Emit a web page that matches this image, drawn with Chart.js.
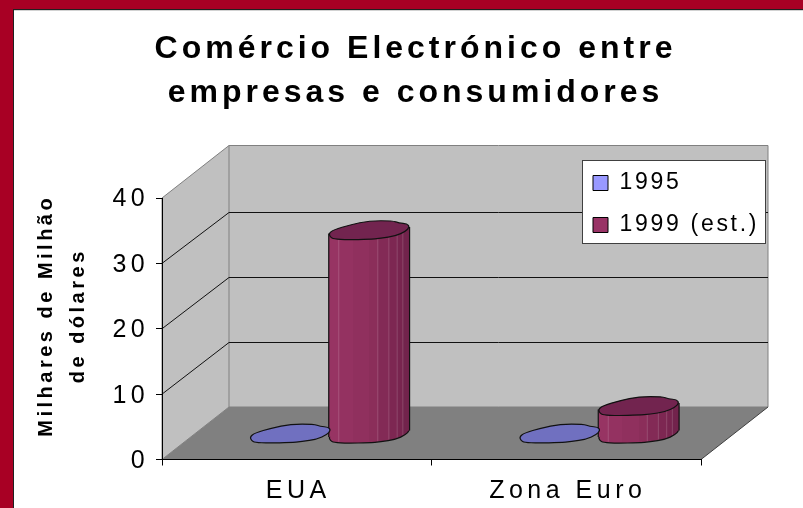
<!DOCTYPE html>
<html>
<head>
<meta charset="utf-8">
<style>html,body{margin:0;padding:0;background:#fff}canvas{display:block}</style>
<script src="https://cdn.jsdelivr.net/npm/chart.js@4"></script>
</head>
<body>
<canvas id="c" width="803" height="508"></canvas>
<script>
const categories = ['EUA', 'Zona Euro'];
const values1995 = [0.1, 0.1];
const values1999 = [31.2, 4.3];
const seriesNames = ['1995', '1999 (est.)'];
const titleLines = ['Comércio Electrónico entre', 'empresas e consumidores'];
const axisTitleLines = ['Milhares de Milhão', 'de dólares'];

const FONT = '"Liberation Sans", Arial, sans-serif';
const DX = 67, DY = -52.5, GRID_DY = -51.7;
// outline of one cylinder cap, normalised to its bounding box
const cap = [[0,.67],[.06,.47],[.27,.21],[.5,0],[.79,0],[.87,.12],[.97,.16],[1,.33],[.95,.56],[.83,.79],[.64,.93],[.5,.97],[.23,1],[.06,.96],[.02,.86]];
const lower = [[0,.67],[.02,.86],[.06,.96],[.23,1],[.5,.97],[.64,.93],[.83,.79],[.95,.56],[1,.33]];
const bands = [[0,'#973463'],[.124,'#943261'],[.3,'#90305e'],[.5,'#8b2e5a'],[.607,'#832a56'],[.744,'#7d2752'],[.847,'#78254f'],[.917,'#72234c'],[1,'#72234c']];
const glints = [.124,.607,.744,.847,.917];

function lowerV(u){
  for(let i=1;i<lower.length;i++){
    if(u<=lower[i][0]){
      const a=lower[i-1],b=lower[i];
      return a[1]+(b[1]-a[1])*(u-a[0])/(b[0]-a[0]);
    }
  }
  return .33;
}
function capPath(ctx,x0,w,cy,h){
  const P=cap.map(p=>[x0+p[0]*w,cy+(p[1]-.5)*h]);
  const n=P.length;
  ctx.beginPath();
  ctx.moveTo((P[n-1][0]+P[0][0])/2,(P[n-1][1]+P[0][1])/2);
  for(let i=0;i<n;i++){
    const q=P[(i+1)%n];
    ctx.quadraticCurveTo(P[i][0],P[i][1],(P[i][0]+q[0])/2,(P[i][1]+q[1])/2);
  }
  ctx.closePath();
}
const scenery = {
  id:'scenery',
  afterLayout(chart){
    const t=chart.titleBlock; t.left=13; t.right=818;
    const l=chart.legend; l.left=574; l.top=152.5; l.right=790; l.bottom=500;
    if(chart.$wrapped) return;
    chart.$wrapped=true;
    const ctx=chart.ctx;
    const wrap=(o,m,sp,dx,dy)=>{const f=o[m];o[m]=function(a){ctx.save();ctx.letterSpacing=sp;ctx.translate(dx||0,dy||0);f.call(this,a);ctx.restore();};};
    wrap(t,'draw','4px');
    wrap(l,'draw','2.7px');
    wrap(chart.scales.x,'drawLabels','4.5px',1.5,0);
    wrap(chart.scales.y,'drawLabels','4.5px',-1.5,1.5);
    wrap(chart.scales.y,'drawTitle','3.5px',0,-13);
  },
  beforeDraw(chart){
    const ctx=chart.ctx,{left:L,right:R,top:T,bottom:B}=chart.chartArea,y=chart.scales.y;
    ctx.save();
    ctx.fillStyle='#fff';ctx.fillRect(0,0,803,508);
    ctx.fillStyle='#a80024';ctx.fillRect(0,0,803,9.5);ctx.fillRect(0,0,13,508);
    ctx.fillStyle='#202020';ctx.fillRect(13,9,790,1.2);ctx.fillRect(13,9,1,499);
    // walls
    ctx.fillStyle='#c0c0c0';ctx.strokeStyle='#808080';ctx.lineWidth=1;
    ctx.beginPath();ctx.moveTo(L,T);ctx.lineTo(L+DX,T+DY);ctx.lineTo(R+DX,T+DY);ctx.lineTo(R+DX,B+DY);ctx.lineTo(L+DX,B+DY);ctx.lineTo(L,B);ctx.closePath();ctx.fill();ctx.stroke();
    ctx.beginPath();ctx.moveTo(L+DX,T+DY);ctx.lineTo(L+DX,B+DY);ctx.stroke();
    // floor
    ctx.fillStyle='#808080';
    ctx.beginPath();ctx.moveTo(L,B);ctx.lineTo(R,B);ctx.lineTo(R+DX,B+DY);ctx.lineTo(L+DX,B+DY);ctx.closePath();ctx.fill();
    ctx.strokeStyle='#404040';
    ctx.beginPath();ctx.moveTo(R,B);ctx.lineTo(R+DX,B+DY);ctx.stroke();
    // grid from the value scale
    y.ticks.forEach(t=>{
      if(t.value<=y.min||t.value>=y.max) return;
      const p=y.getPixelForValue(t.value);
      const back=Math.round(p+GRID_DY)+.5;
      ctx.strokeStyle='#111';
      ctx.beginPath();ctx.moveTo(L,p);ctx.lineTo(L+DX,back);ctx.lineTo(R+DX,back);ctx.stroke();
    });
    // legend frame
    ctx.fillStyle='#fff';ctx.strokeStyle='#404040';
    ctx.fillRect(582.5,160.5,183,83);ctx.strokeRect(582.5,160.5,183,83);
    ctx.restore();
  },
  beforeDatasetDraw(chart,args){
    const ctx=chart.ctx, meta=args.meta, ds=chart.data.datasets[args.index];
    ctx.save();
    meta.data.forEach(el=>{
      const w=el.width+2, x0=el.x+DX/2-w/2-.5, h=w*0.236;
      const topY=el.y+DY/2+1, baseY=el.base+DY/2+1;
      ctx.lineWidth=1.2;ctx.strokeStyle='#111';
      if(baseY-topY>3){
        const g=ctx.createLinearGradient(x0,0,x0+w,0);
        bands.forEach((b,i)=>{ g.addColorStop(b[0],b[1]); if(i<bands.length-1) g.addColorStop(Math.max(bands[i+1][0]-.0001,0),b[1]); });
        capPath(ctx,x0,w,baseY,h);ctx.fillStyle=g;ctx.fill();ctx.stroke();
        const yl=topY+.17*h,yr=topY-.17*h,byl=baseY+.17*h,byr=baseY-.17*h;
        ctx.beginPath();ctx.moveTo(x0,yl);ctx.lineTo(x0+w,yr);ctx.lineTo(x0+w,byr);ctx.lineTo(x0,byl);ctx.closePath();ctx.fill();
        ctx.beginPath();ctx.moveTo(x0,yl);ctx.lineTo(x0,byl);ctx.moveTo(x0+w,yr);ctx.lineTo(x0+w,byr);ctx.stroke();
        ctx.strokeStyle='rgba(255,255,255,.16)';ctx.lineWidth=1;
        glints.forEach(u=>{
          const px=x0+u*w;
          ctx.beginPath();ctx.moveTo(px,topY);ctx.lineTo(px,baseY+(lowerV(u)-.5)*h-1);ctx.stroke();
        });
        ctx.lineWidth=1.2;ctx.strokeStyle='#111';
      }
      capPath(ctx,x0,w,topY,h);
      ctx.fillStyle=ds.topColor;ctx.fill();ctx.stroke();
    });
    ctx.restore();
    return false;
  }
};

new Chart(document.getElementById('c'),{
  type:'bar',
  data:{
    labels:categories,
    datasets:[
      {label:seriesNames[0],data:values1995,backgroundColor:'#9999ff',topColor:'#7070c0',borderColor:'#000',borderWidth:1},
      {label:seriesNames[1],data:values1999,backgroundColor:'#993366',topColor:'#72244f',borderColor:'#000',borderWidth:1}
    ]
  },
  options:{
    responsive:false,animation:false,devicePixelRatio:1,
    categoryPercentage:.585,barPercentage:1,
    layout:{padding:{top:10,left:13,right:102,bottom:0}},
    plugins:{
      tooltip:{enabled:false},
      title:{display:true,text:titleLines,color:'#000',align:'center',
        font:{family:FONT,size:32,weight:'bold',lineHeight:1.375},
        padding:{top:17,bottom:83}},
      legend:{display:true,position:'chartArea',align:'start',
        labels:{boxWidth:15,boxHeight:15,padding:19,color:'#000',font:{family:FONT,size:23}}}
    },
    scales:{
      x:{type:'category',offset:true,
        grid:{drawOnChartArea:false,drawTicks:true,tickLength:6,color:'#000',offset:true},
        border:{color:'#000',width:1},
        ticks:{color:'#000',padding:10.5,maxRotation:0,font:{family:FONT,size:25}},
        afterFit(s){s.height=48.5;}},
      y:{min:0,max:40,
        grid:{drawOnChartArea:false,drawTicks:true,tickLength:6,color:'#000'},
        border:{color:'#000',width:1},
        ticks:{stepSize:10,color:'#000',padding:5.3,font:{family:FONT,size:25}},
        title:{display:true,text:axisTitleLines,color:'#000',
          font:{family:FONT,size:20,weight:'bold',lineHeight:1.6},padding:{top:17,bottom:0}},
        afterFit(s){s.width=149;}}
    }
  },
  plugins:[scenery]
});
</script>
</body>
</html>
